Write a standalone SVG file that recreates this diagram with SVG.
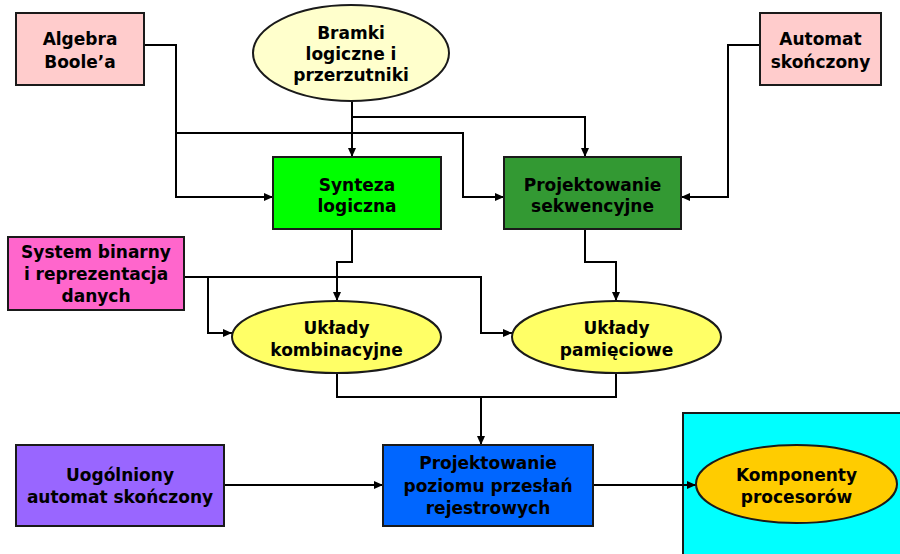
<svg xmlns="http://www.w3.org/2000/svg" width="900" height="554" viewBox="0 0 900 554">
  <style>
    .node { stroke: #1a1a1a; stroke-width: 2; }
    .lbl { font-family: "DejaVu Sans", Verdana, sans-serif; font-weight: bold; font-size: 17px; fill: #000; text-anchor: middle; }
    .wire { fill: none; stroke: #000; stroke-width: 2; }
  </style>
  <defs>
    <marker id="arrow" markerUnits="userSpaceOnUse" markerWidth="9" markerHeight="8" refX="9" refY="4" orient="auto">
      <path d="M0,0 L9,4 L0,8 z" fill="#000"/>
    </marker>
  </defs>
  <rect width="900" height="554" fill="#fff"/>

  <!-- processor area -->
  <g id="processor-area">
    <rect class="node" x="683" y="413" width="230" height="150" fill="#00ffff"/>
  </g>

  <!-- connectors -->
  <g id="connectors">
    <path class="wire" d="M144,45 H176 V197 H273" marker-end="url(#arrow)"/>
    <path class="wire" d="M176,133 H463 V197 H504" marker-end="url(#arrow)"/>
    <path class="wire" d="M352,101 V157" marker-end="url(#arrow)"/>
    <path class="wire" d="M352,117 H585 V157" marker-end="url(#arrow)"/>
    <path class="wire" d="M760,45 H728 V197 H681" marker-end="url(#arrow)"/>
    <path class="wire" d="M184,277 H481 V333 H512" marker-end="url(#arrow)"/>
    <path class="wire" d="M208,277 V333 H232" marker-end="url(#arrow)"/>
    <path class="wire" d="M352,229 V262 H337 V301" marker-end="url(#arrow)"/>
    <path class="wire" d="M585,229 V262 H616 V301" marker-end="url(#arrow)"/>
    <path class="wire" d="M337,373 V397 H616 V373"/>
    <path class="wire" d="M481,397 V445" marker-end="url(#arrow)"/>
    <path class="wire" d="M224,485 H383" marker-end="url(#arrow)"/>
    <path class="wire" d="M593,485 H696" marker-end="url(#arrow)"/>
  </g>

  <g id="algebra-boole">
    <rect class="node" x="16" y="13" width="128" height="72" fill="#ffcccc"/>
    <text class="lbl"><tspan x="80" y="45">Algebra</tspan><tspan x="80" y="68">Boole’a</tspan></text>
  </g>

  <g id="bramki">
    <ellipse class="node" cx="351" cy="53" rx="98" ry="48" fill="#ffffcc"/>
    <text class="lbl"><tspan x="351" y="39">Bramki</tspan><tspan x="351" y="60">logiczne i</tspan><tspan x="351" y="81">przerzutniki</tspan></text>
  </g>

  <g id="automat">
    <rect class="node" x="760" y="13" width="121" height="72" fill="#ffcccc"/>
    <text class="lbl"><tspan x="820.5" y="45">Automat</tspan><tspan x="820.5" y="68">skończony</tspan></text>
  </g>

  <g id="synteza">
    <rect class="node" x="273" y="157" width="168" height="72" fill="#00ff00"/>
    <text class="lbl"><tspan x="357" y="191">Synteza</tspan><tspan x="357" y="212">logiczna</tspan></text>
  </g>

  <g id="projektowanie-sekwencyjne">
    <rect class="node" x="504" y="157" width="177" height="72" fill="#339933"/>
    <text class="lbl"><tspan x="592.5" y="191">Projektowanie</tspan><tspan x="592.5" y="212">sekwencyjne</tspan></text>
  </g>

  <g id="system-binarny">
    <rect class="node" x="8" y="237" width="176" height="73" fill="#ff66cc"/>
    <text class="lbl"><tspan x="96" y="258">System binarny</tspan><tspan x="96" y="280">i reprezentacja</tspan><tspan x="96" y="302">danych</tspan></text>
  </g>

  <g id="uklady-kombinacyjne">
    <ellipse class="node" cx="336.5" cy="337" rx="104.5" ry="36" fill="#ffff66"/>
    <text class="lbl"><tspan x="336.5" y="334">Układy</tspan><tspan x="336.5" y="356">kombinacyjne</tspan></text>
  </g>

  <g id="uklady-pamieciowe">
    <ellipse class="node" cx="616.5" cy="337" rx="104.5" ry="36" fill="#ffff66"/>
    <text class="lbl"><tspan x="616.5" y="334">Układy</tspan><tspan x="616.5" y="356">pamięciowe</tspan></text>
  </g>

  <g id="uogolniony-automat">
    <rect class="node" x="16" y="445" width="208" height="81" fill="#9966ff"/>
    <text class="lbl"><tspan x="120" y="481">Uogólniony</tspan><tspan x="120" y="503">automat skończony</tspan></text>
  </g>

  <g id="projektowanie-rt">
    <rect class="node" x="383" y="445" width="210" height="81" fill="#0066ff"/>
    <text class="lbl"><tspan x="488" y="469">Projektowanie</tspan><tspan x="488" y="492">poziomu przesłań</tspan><tspan x="488" y="514">rejestrowych</tspan></text>
  </g>

  <g id="komponenty">
    <ellipse class="node" cx="796.5" cy="484" rx="100.5" ry="39" fill="#ffcc00"/>
    <text class="lbl"><tspan x="796.5" y="481">Komponenty</tspan><tspan x="796.5" y="503">procesorów</tspan></text>
  </g>
</svg>
